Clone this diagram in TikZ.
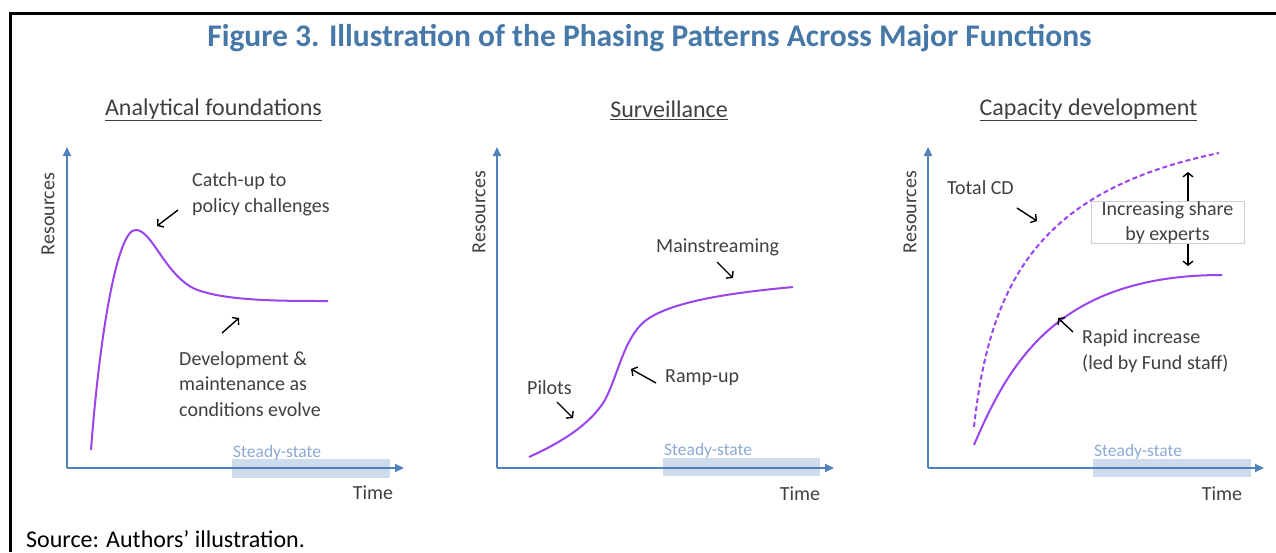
\documentclass[tikz,border=0pt]{standalone}
\usepackage{fontspec}
\setmainfont{Carlito}
\usetikzlibrary{arrows.meta}
\definecolor{titleblue}{RGB}{70,120,168}
\definecolor{axisblue}{RGB}{79,129,189}
\definecolor{curvepurple}{RGB}{155,68,238}
\definecolor{txtgray}{RGB}{64,64,64}
\definecolor{ssfill}{RGB}{205,219,236}
\definecolor{sstext}{RGB}{140,170,212}
\definecolor{boxgray}{RGB}{205,205,205}
\tikzset{
  axisline/.style={draw=axisblue, line width=2pt, -{Triangle[length=9pt,width=8pt]}},
  curveline/.style={draw=curvepurple, line width=2pt},
  lbl/.style={inner sep=0pt, text=txtgray, font=\fontsize{20}{26}\selectfont},
  annarrow/.style={draw=black, line width=1.4pt, -{Straight Barb[length=4pt,width=10pt]}},
  steadybox/.style={fill=ssfill, draw=none},
  sslabel/.style={inner sep=0pt, text=sstext, font=\fontsize{17.5}{20}\selectfont},
  reslabel/.style={inner sep=0pt, text=txtgray, rotate=90, font=\fontsize{20}{24}\selectfont},
  timelabel/.style={inner sep=0pt, text=txtgray, font=\fontsize{20}{24}\selectfont},
  subtitle/.style={inner sep=0pt, text=txtgray, font=\fontsize{24}{28}\selectfont},
}
\begin{document}
\begin{tikzpicture}[x=1pt,y=-1pt]
\useasboundingbox (0,0) rectangle (1276,552);
\fill[white] (0,0) rectangle (1276,552);
% frame
\draw[line width=3pt] (10,552) -- (10,13.5) -- (1276,13.5);
% title
\node[inner sep=0pt, text=titleblue, font=\fontsize{31.5}{34}\selectfont\bfseries] (title) at (649.5,38) {Figure 3. Illustration of the Phasing Patterns Across Major Functions};
% source
\node[inner sep=0pt, anchor=base west, font=\fontsize{24}{28}\selectfont] (source) at (26,547) {Source: Authors’ illustration.};

% ---------------- Panel 1 ----------------
\node[subtitle] (sub1) at (213.5,110) {\underline{Analytical foundations}};
\coordinate (o1) at (67,468);
\coordinate (y1) at (67,147);
\coordinate (x1) at (404,468);
\fill[steadybox] (232,459) rectangle (390,478);
\draw[axisline] (o1) -- (y1);
\draw[axisline] (o1) -- (x1);
\node[sslabel, anchor=west] (ss1) at (233,453) {Steady-state};
\node[timelabel] (t1) at (373,493) {Time};
\node[reslabel] (r1) at (48,214) {Resources};
\draw[curveline] (91,450) .. controls (100,330) and (118,228) .. (136,230)
  .. controls (152,230) and (165,275) .. (195,289)
  .. controls (225,301) and (280,301) .. (328,301);
\node[lbl, anchor=west, align=left] (catch) at (192,194) {Catch-up to\\policy challenges};
\coordinate (a1s) at (178,210);
\coordinate (a1e) at (157,226);
\draw[annarrow] (a1s) -- (a1e);
\coordinate (a2s) at (222,333);
\coordinate (a2e) at (239,318);
\draw[annarrow] (a2s) -- (a2e);
\node[lbl, anchor=west, align=left, font=\fontsize{20}{25.5}\selectfont] (dev) at (179,384) {Development \&\\maintenance as\\conditions evolve};

% ---------------- Panel 2 ----------------
\node[subtitle] (sub2) at (669,110) {\underline{Surveillance}};
\coordinate (o2) at (497,468);
\coordinate (y2) at (497,147);
\coordinate (x2) at (834,468);
\fill[steadybox] (663,458) rectangle (820,476);
\draw[axisline] (o2) -- (y2);
\draw[axisline] (o2) -- (x2);
\node[sslabel, anchor=west] (ss2) at (664,451) {Steady-state};
\node[timelabel] (t2) at (800,494) {Time};
\node[reslabel] (r2) at (479,212) {Resources};
\draw[curveline] (529,457) .. controls (560,443) and (590,425) .. (605,400)
  .. controls (618,375) and (624,338) .. (645,321)
  .. controls (672,300) and (740,292) .. (793,287);
\node[lbl, anchor=west] (pilots) at (527,388) {Pilots};
\coordinate (p2s) at (557,402);
\coordinate (p2e) at (573,418);
\draw[annarrow] (p2s) -- (p2e);
\node[lbl, anchor=west] (ramp) at (665,378) {Ramp-up};
\coordinate (r2s) at (656,383);
\coordinate (r2e) at (631,369);
\draw[annarrow] (r2s) -- (r2e);
\node[lbl, anchor=west] (main) at (656,247) {Mainstreaming};
\coordinate (m2s) at (717,262);
\coordinate (m2e) at (733,278);
\draw[annarrow] (m2s) -- (m2e);

% ---------------- Panel 3 ----------------
\node[subtitle] (sub3) at (1088.5,110) {\underline{Capacity development}};
\coordinate (o3) at (928,468);
\coordinate (y3) at (928,147);
\coordinate (x3) at (1264,468);
\fill[steadybox] (1093,459) rectangle (1251,477);
\draw[axisline] (o3) -- (y3);
\draw[axisline] (o3) -- (x3);
\node[sslabel, anchor=west] (ss3) at (1094,452) {Steady-state};
\node[timelabel] (t3) at (1222,494) {Time};
\node[reslabel] (r3) at (910,212) {Resources};
\draw[curveline, dash pattern=on 5pt off 3pt] (974,427) .. controls (990,280) and (1040,190) .. (1219,153);
\draw[curveline] (974,445) .. controls (1010,360) and (1060,275) .. (1222,275);
\node[lbl, anchor=west] (total) at (947,188) {Total CD};
\coordinate (tc3s) at (1017,208);
\coordinate (tc3e) at (1037,221);
\draw[annarrow] (tc3s) -- (tc3e);
\node[draw=boxgray, line width=0.8pt, minimum width=153pt, minimum height=41pt, inner sep=0pt, text=txtgray, align=center, font=\fontsize{20}{25}\selectfont] (share) at (1167.5,222.5) {Increasing share\\by experts};
\coordinate (up3) at (1188,172);
\coordinate (dn3) at (1188,266);
\draw[annarrow] (share.north -| up3) -- (up3);
\draw[annarrow] (share.south -| dn3) -- (dn3);
\node[lbl, anchor=west, align=left] (rapid) at (1082,351) {Rapid increase\\(led by Fund staff)};
\coordinate (ri3s) at (1073,332);
\coordinate (ri3e) at (1058,318);
\draw[annarrow] (ri3s) -- (ri3e);
\end{tikzpicture}
\end{document}
